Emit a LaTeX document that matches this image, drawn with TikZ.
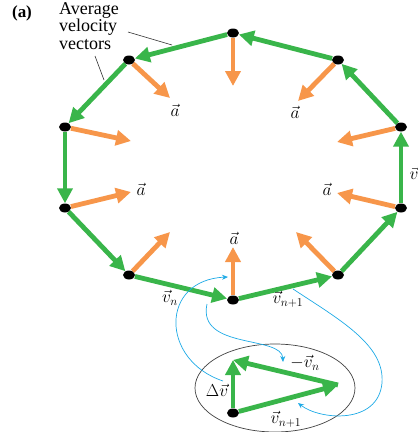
\documentclass[tikz,border=0pt]{standalone}
\usepackage{fontspec}
\setmainfont{Liberation Serif}
\usepackage{amsmath}
\usetikzlibrary{arrows.meta,shapes.geometric}
\definecolor{velgreen}{RGB}{57,181,74}
\definecolor{accorange}{RGB}{247,150,74}
\definecolor{cueblue}{RGB}{30,170,230}
\tikzset{
  dotpt/.style={ellipse,fill=black,inner sep=0pt,minimum width=12pt,minimum height=9pt},
  velo/.style={draw=velgreen,line width=4.8pt,-{Triangle[length=15pt,width=15pt]}},
  accel/.style={draw=accorange,line width=4.8pt,-{Triangle[length=15pt,width=15pt]}},
  cue/.style={draw=cueblue,line width=0.7pt,-{Stealth[length=6pt,width=5pt]}},
  lbl/.style={font=\fontsize{18}{20}\selectfont,inner sep=1pt},
  note/.style={font=\fontsize{18}{17.5}\selectfont,align=left,inner sep=0pt},
  lead/.style={draw=black!80,line width=0.6pt},
  ring/.style={draw=black!75,line width=0.7pt,ellipse,inner sep=0pt,
               minimum width=160pt,minimum height=88pt},
}
\begin{document}
\begin{tikzpicture}[x=1pt,y=-1pt]
  \useasboundingbox (0,0) rectangle (418,432);

  % positions along the path
  \foreach \n/\x/\y in {1/129/275,2/233/300,3/338/275,4/401/208,5/401/127,
                        6/338/60,7/233/33,8/129/60,9/65/127,10/65/208}
    \node[dotpt] (d\n) at (\x,\y) {};

  % acceleration tips
  \foreach \n/\x/\y in {1/170/232,2/233/247,3/296/232,4/337/193,5/337/142,
                        6/298/101,7/233/86,8/170/98,9/131/141,10/131/192}
    \coordinate (a\n) at (\x,\y);

  \foreach \n in {1,...,10}
    \draw[accel] (d\n) -- (a\n);

  \foreach \n/\m in {1/2,2/3,3/4,4/5,5/6,6/7,7/8,8/9,9/10,10/1}
    \draw[velo] (d\n) -- (d\m);

  \node[lbl] (la1) at (175,110) {$\vec{a}$};
  \node[lbl] (la2) at (295,112) {$\vec{a}$};
  \node[lbl] (la3) at (141,189) {$\vec{a}$};
  \node[lbl] (la4) at (327,189) {$\vec{a}$};
  \node[lbl] (la5) at (234,238) {$\vec{a}$};
  \node[lbl] (lv)  at (414,173) {$\vec{v}$};
  \node[lbl] (lvn) at (170,298) {$\vec{v}_n$};
  \node[lbl] (lvm) at (288,299) {$\vec{v}_{n+1}$};

  \node[font=\bfseries\fontsize{17}{18}\selectfont] (tag) at (22,13) {(a)};
  \node[note,anchor=north west] (avg) at (59,2) {Average\\velocity\\vectors};
  \coordinate (s1) at (128,32);
  \coordinate (e1) at (172,45);
  \coordinate (s2) at (95,56);
  \coordinate (e2) at (104,80);
  \draw[lead] (s1) -- (e1);
  \draw[lead] (s2) -- (e2);

  % vector subtraction
  \node[ring] (ring) at (275,388) {};
  \node[dotpt] (t1) at (233,413) {};
  \coordinate (t2) at (233,360);
  \coordinate (t3) at (338,385);
  \draw[velo] (t1) -- (t3);
  \draw[velo] (t3) -- (t2);
  \draw[velo] (t1) -- (t2);
  \node[lbl] (ldv)  at (217,390) {$\Delta\vec{v}$};
  \node[lbl] (lmvn) at (305,363) {$-\vec{v}_n$};
  \node[lbl] (lvm2) at (286,419) {$\vec{v}_{n+1}$};

  \coordinate (c1) at (223,381);
  \coordinate (c2) at (228,277);
  \coordinate (c3) at (207,304);
  \coordinate (c4) at (283,362);
  \coordinate (c5) at (293,289);
  \coordinate (c6) at (382,383);
  \coordinate (c7) at (298,403);
  \draw[cue] (c1) .. controls (160,360) and (160,280) .. (c2);
  \draw[cue] (c3) .. controls (197,350) and (282,335) .. (c4);
  \draw[cue] (c5) .. controls (340,320) and (385,345) .. (c6)
                  .. controls (378,425) and (320,420) .. (c7);
\end{tikzpicture}
\end{document}
